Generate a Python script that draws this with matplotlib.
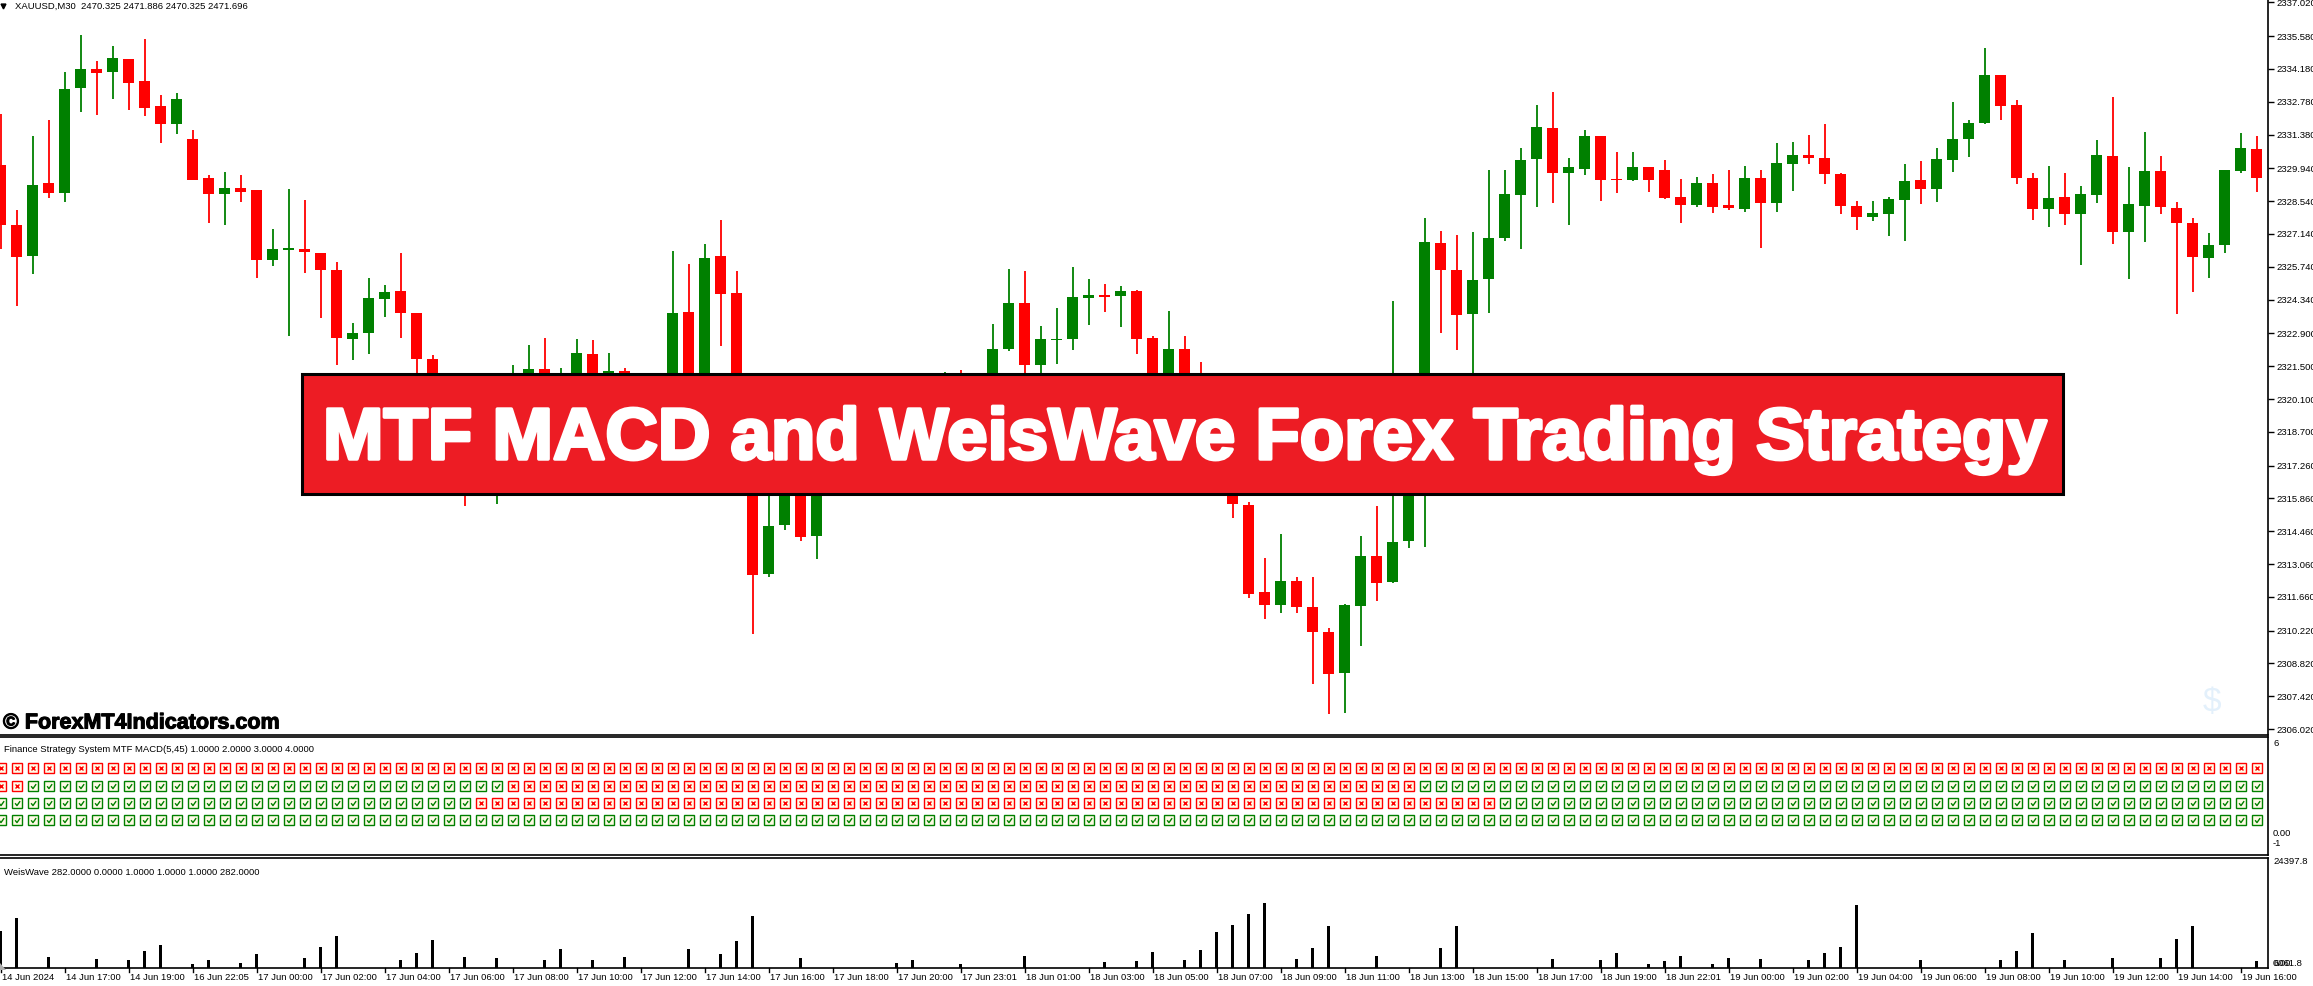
import matplotlib
matplotlib.use("Agg")
import matplotlib.pyplot as plt
import matplotlib.patheffects as pe
from matplotlib.patches import Rectangle, Polygon
from matplotlib.path import Path
from matplotlib.transforms import blended_transform_factory

W, H = 2313, 986
DPI = 100
FONT = "Liberation Sans"

# ---- XAUUSD M30 candles ----
opens = [2330.08, 2327.51, 2326.21, 2329.32, 2328.90, 2333.35, 2334.17, 2334.03, 2334.61, 2333.67,
         2332.59, 2331.81, 2331.20, 2329.52, 2328.86, 2329.10, 2329.02, 2326.01, 2326.47, 2326.49,
         2326.33, 2325.59, 2322.68, 2322.90, 2324.38, 2324.72, 2323.76, 2321.81, 2319.17, 2317.98,
         2317.18, 2317.58, 2319.57, 2320.17, 2321.39, 2320.57, 2320.57, 2322.03, 2320.87, 2321.29,
         2320.57, 2319.57, 2320.37, 2323.82, 2319.17, 2326.19, 2324.62, 2317.18, 2312.62, 2314.71,
         2316.38, 2314.27, 2316.38, 2317.18, 2317.98, 2317.48, 2318.58, 2319.17, 2318.68, 2319.57,
         2320.37, 2319.97, 2320.77, 2322.25, 2324.20, 2321.53, 2322.62, 2322.68, 2324.40, 2324.54,
         2324.48, 2324.72, 2322.70, 2320.17, 2322.23, 2321.17, 2319.97, 2317.98, 2315.59, 2311.88,
         2311.32, 2312.34, 2311.24, 2310.16, 2308.41, 2311.28, 2313.41, 2312.30, 2314.03, 2317.18,
         2326.75, 2325.59, 2323.74, 2325.20, 2326.97, 2328.82, 2330.32, 2331.66, 2329.72, 2329.92,
         2331.32, 2329.48, 2329.42, 2330.00, 2329.86, 2328.72, 2328.39, 2329.32, 2328.37, 2328.21,
         2329.52, 2328.45, 2330.14, 2330.50, 2330.38, 2329.70, 2328.33, 2327.85, 2327.99, 2328.60,
         2329.44, 2329.04, 2330.28, 2331.18, 2331.89, 2333.93, 2332.63, 2329.52, 2328.19, 2328.72,
         2327.97, 2328.78, 2330.46, 2327.21, 2328.35, 2329.82, 2328.25, 2327.61, 2326.13, 2326.65,
         2329.82, 2330.76]
highs = [2332.27, 2328.15, 2331.32, 2332.00, 2334.05, 2335.62, 2334.53, 2335.16, 2334.61, 2335.46,
         2333.07, 2333.17, 2331.58, 2329.66, 2329.78, 2329.66, 2329.02, 2327.35, 2329.06, 2328.59,
         2326.33, 2325.95, 2323.36, 2325.26, 2324.96, 2326.33, 2323.76, 2321.97, 2319.37, 2318.58,
         2319.17, 2319.57, 2321.57, 2322.40, 2322.72, 2321.43, 2322.66, 2322.62, 2322.07, 2321.43,
         2320.97, 2320.77, 2326.41, 2325.85, 2326.71, 2327.73, 2325.55, 2317.58, 2315.95, 2316.58,
         2316.58, 2316.58, 2317.38, 2318.28, 2318.18, 2318.88, 2319.57, 2319.47, 2319.97, 2321.27,
         2321.33, 2320.97, 2323.32, 2325.65, 2325.55, 2323.22, 2323.98, 2325.73, 2325.22, 2325.02,
         2324.92, 2324.76, 2322.78, 2323.86, 2322.78, 2321.69, 2320.17, 2318.18, 2315.69, 2313.31,
         2314.35, 2312.52, 2312.52, 2310.34, 2311.36, 2314.25, 2315.55, 2324.28, 2317.38, 2327.83,
         2327.27, 2327.09, 2327.23, 2329.86, 2329.86, 2330.80, 2332.63, 2333.19, 2330.38, 2331.58,
         2331.32, 2330.64, 2330.64, 2330.00, 2330.30, 2329.48, 2329.56, 2329.70, 2329.86, 2330.04,
         2329.86, 2331.02, 2331.06, 2331.36, 2331.83, 2329.76, 2328.55, 2328.55, 2328.72, 2330.12,
         2330.24, 2330.80, 2332.77, 2332.01, 2335.06, 2333.93, 2332.85, 2329.76, 2330.04, 2329.74,
         2329.18, 2331.16, 2332.99, 2330.00, 2331.50, 2330.46, 2328.51, 2327.83, 2327.19, 2329.86,
         2331.44, 2331.32]
lows = [2326.51, 2324.06, 2325.42, 2328.68, 2328.51, 2332.33, 2332.23, 2332.89, 2332.43, 2332.19,
        2331.00, 2331.40, 2329.42, 2327.61, 2327.51, 2328.49, 2325.26, 2325.79, 2322.80, 2325.46,
        2323.56, 2321.57, 2321.75, 2322.01, 2323.60, 2322.72, 2320.57, 2317.98, 2316.38, 2315.53,
        2316.78, 2315.63, 2319.17, 2319.77, 2319.77, 2319.97, 2320.17, 2320.27, 2320.37, 2319.97,
        2319.17, 2319.07, 2319.57, 2318.58, 2318.78, 2322.36, 2316.78, 2310.06, 2312.50, 2314.53,
        2314.05, 2313.29, 2316.18, 2316.98, 2317.18, 2317.28, 2318.28, 2318.38, 2318.48, 2319.37,
        2319.57, 2319.77, 2320.57, 2322.13, 2321.17, 2321.23, 2321.61, 2322.17, 2323.26, 2323.82,
        2323.16, 2322.01, 2319.77, 2319.77, 2320.17, 2319.57, 2317.38, 2315.03, 2311.60, 2310.72,
        2310.96, 2310.98, 2307.95, 2306.65, 2306.71, 2309.56, 2311.50, 2312.24, 2313.75, 2313.79,
        2322.90, 2322.21, 2320.17, 2323.78, 2326.85, 2326.51, 2328.27, 2328.45, 2327.51, 2329.64,
        2328.55, 2328.90, 2329.38, 2328.94, 2328.64, 2327.59, 2328.29, 2328.03, 2328.17, 2328.07,
        2326.53, 2328.07, 2328.96, 2330.14, 2329.26, 2327.99, 2327.31, 2327.71, 2327.05, 2326.83,
        2328.43, 2328.51, 2329.78, 2330.42, 2331.85, 2331.99, 2329.26, 2327.73, 2327.43, 2327.53,
        2325.81, 2328.47, 2326.71, 2325.22, 2326.79, 2327.99, 2323.72, 2324.66, 2325.26, 2326.33,
        2329.74, 2328.92]
closes = [2327.51, 2326.17, 2329.24, 2328.88, 2333.33, 2334.17, 2333.99, 2334.65, 2333.59, 2332.53,
          2331.85, 2332.89, 2329.46, 2328.86, 2329.08, 2328.94, 2326.01, 2326.49, 2326.53, 2326.35,
          2325.61, 2322.72, 2322.92, 2324.42, 2324.66, 2323.78, 2321.79, 2319.17, 2317.18, 2316.98,
          2318.58, 2319.17, 2320.97, 2321.39, 2320.37, 2320.93, 2322.07, 2320.77, 2321.29, 2320.57,
          2319.57, 2320.37, 2323.76, 2319.17, 2326.11, 2324.56, 2317.18, 2312.58, 2314.69, 2316.38,
          2314.23, 2316.38, 2317.18, 2317.98, 2317.48, 2318.58, 2319.17, 2318.68, 2319.57, 2320.37,
          2319.97, 2320.77, 2322.23, 2324.20, 2321.53, 2322.66, 2322.68, 2324.46, 2324.54, 2324.46,
          2324.72, 2322.68, 2320.37, 2322.23, 2320.57, 2319.97, 2317.98, 2315.61, 2311.80, 2311.32,
          2312.34, 2311.24, 2310.16, 2308.37, 2311.32, 2313.41, 2312.26, 2314.01, 2317.18, 2326.79,
          2325.59, 2323.70, 2325.18, 2326.95, 2328.84, 2330.30, 2331.70, 2329.76, 2330.00, 2331.32,
          2329.46, 2329.42, 2330.00, 2329.46, 2328.69, 2328.39, 2329.32, 2328.31, 2328.25, 2329.52,
          2328.45, 2330.16, 2330.50, 2330.36, 2329.68, 2328.35, 2327.85, 2328.03, 2328.62, 2329.40,
          2329.04, 2330.34, 2331.20, 2331.87, 2333.93, 2332.59, 2329.54, 2328.19, 2328.66, 2328.01,
          2328.84, 2330.50, 2327.21, 2328.43, 2329.82, 2328.31, 2327.61, 2326.17, 2326.67, 2329.86,
          2330.80, 2329.54]

price_ticks = [2337.02, 2335.58, 2334.18, 2332.78, 2331.38, 2329.94, 2328.54, 2327.14, 2325.74,
               2324.34, 2322.90, 2321.50, 2320.10, 2318.70, 2317.26, 2315.86, 2314.46, 2313.06,
               2311.66, 2310.22, 2308.82, 2307.42, 2306.02]

time_labels = ["14 Jun 2024", "14 Jun 17:00", "14 Jun 19:00", "16 Jun 22:05", "17 Jun 00:00",
               "17 Jun 02:00", "17 Jun 04:00", "17 Jun 06:00", "17 Jun 08:00", "17 Jun 10:00",
               "17 Jun 12:00", "17 Jun 14:00", "17 Jun 16:00", "17 Jun 18:00", "17 Jun 20:00",
               "17 Jun 23:01", "18 Jun 01:00", "18 Jun 03:00", "18 Jun 05:00", "18 Jun 07:00",
               "18 Jun 09:00", "18 Jun 11:00", "18 Jun 13:00", "18 Jun 15:00", "18 Jun 17:00",
               "18 Jun 19:00", "18 Jun 22:01", "19 Jun 00:00", "19 Jun 02:00", "19 Jun 04:00",
               "19 Jun 06:00", "19 Jun 08:00", "19 Jun 10:00", "19 Jun 12:00", "19 Jun 14:00",
               "19 Jun 16:00"]

# ---- WeisWave histogram ----
weis_bars = [0, 1, 3, 6, 8, 9, 10, 12, 13, 15, 16, 19, 20, 21, 25, 26, 27, 29, 31, 34, 35, 37, 39,
             43, 45, 46, 47, 50, 56, 57, 60, 64, 69, 71, 72, 74, 75, 76, 77, 78, 79, 81, 82, 83, 86,
             90, 91, 97, 100, 101, 103, 104, 105, 107, 108, 110, 113, 114, 115, 116, 120, 125, 126,
             127, 129, 132, 135, 136, 137, 141]
weis_vals = [8783, 12011, 2703, 2252, 2027, 4054, 5405, 901, 2027, 1126, 3378, 2477, 4955, 7732,
             1802, 3603, 6756, 2703, 2477, 2027, 4504, 1802, 2703, 4504, 3378, 6531, 12387, 2477,
             1130, 2033, 904, 2937, 1355, 1581, 3840, 2033, 4292, 8670, 10330, 12990, 15660, 2259,
             4744, 9990, 2937, 4744, 9990, 2259, 1807, 3539, 904, 1732, 2862, 904, 2485, 2259, 1807,
             3614, 4970, 15000, 1807, 1807, 4066, 8300, 1807, 2485, 2485, 7000, 10000, 1581]

# ---- MTF MACD status rows (x = red cross, v = green tick), top row first ----
macd_levels = [4, 3, 2, 1]
macd_row4 = "x" * 142
macd_row3 = "xx" + "v" * 30 + "x" * 57 + "v" * 53
macd_row2 = "v" * 30 + "x" * 64 + "v" * 48
macd_row1 = "v" * 142
macd_rows = [macd_row4, macd_row3, macd_row2, macd_row1]

n = len(opens)
GREEN = "#008000"
RED = "#ff0000"
FS = 6.8


def frac(x0, y0, x1, y1):
    return [x0 / W, 1 - y1 / H, (x1 - x0) / W, (y1 - y0) / H]


fig = plt.figure(figsize=(W / DPI, H / DPI), dpi=DPI)
fig.patch.set_facecolor("white")

AXR = 2268
xmin = -0.5 / 16
xmax = xmin + AXR / 16

ax = fig.add_axes(frac(0, 0, AXR, 735))
ax2 = fig.add_axes(frac(0, 737, AXR, 855))
ax3 = fig.add_axes(frac(0, 858, AXR, 968))

for a in (ax, ax2, ax3):
    a.set_xlim(xmin, xmax)
    a.set_xticks([])
    a.spines["left"].set_visible(False)
    for s in a.spines.values():
        s.set_linewidth(1.2)
ax.spines["top"].set_visible(False)

# candles
for i in range(n):
    o, h, l, c = opens[i], highs[i], lows[i], closes[i]
    col = GREEN if c > o else RED
    ax.vlines(i, l, h, color=col, linewidth=1.3)
    body = max(abs(c - o), 0.05)
    ax.bar(i, body, bottom=min(o, c), width=0.7, color=col, linewidth=0)

ax.set_ylim(2305.77, 2337.118)
ax.yaxis.tick_right()
ax.set_yticks(price_ticks)
ax.set_yticklabels(["%.3f" % p for p in price_ticks], fontsize=FS, family=FONT)
ax.tick_params(axis="y", direction="out", length=4, width=1, pad=2)

ax.text(0.0065, 0.991, "XAUUSD,M30  2470.325 2471.886 2470.325 2471.696", transform=ax.transAxes,
        fontsize=FS, family=FONT, va="center", ha="left")
ax.plot([0.0015], [0.9915], marker="v", color="black", markersize=3.5, transform=ax.transAxes,
        clip_on=False)

# MTF MACD panel
ax2.set_ylim(-1, 5.8)
ax2.set_yticks([])
check = Path([(-0.45, 0.05), (-0.1, -0.4), (0.5, 0.45)], [Path.MOVETO, Path.LINETO, Path.LINETO])
for lvl, row in zip(macd_levels, macd_rows):
    xs_r = [i for i, s in enumerate(row) if s == "x"]
    xs_g = [i for i, s in enumerate(row) if s == "v"]
    ax2.plot(xs_r, [lvl] * len(xs_r), ls="none", marker="s", ms=6.8, mfc="#fffbe6", mec=RED, mew=1)
    ax2.plot(xs_r, [lvl] * len(xs_r), ls="none", marker="x", ms=3.2, mec=RED, mew=1)
    ax2.plot(xs_g, [lvl] * len(xs_g), ls="none", marker="s", ms=6.8, mfc="#fffbe6", mec=GREEN, mew=1)
    ax2.plot(xs_g, [lvl] * len(xs_g), ls="none", marker=check, ms=3.8, mfc="none", mec=GREEN, mew=1)
ax2.text(0.0018, 0.89, "Finance Strategy System MTF MACD(5,45) 1.0000 2.0000 3.0000 4.0000",
         transform=ax2.transAxes, fontsize=FS, family=FONT, va="center", ha="left")

# WeisWave panel
ax3.bar(weis_bars, weis_vals, width=0.19, color="black", linewidth=0)
ax3.set_ylim(0, 24397.8 * 1.08)
ax3.set_yticks([])
ax3.text(0.0018, 0.87, "WeisWave 282.0000 0.0000 1.0000 1.0000 1.0000 282.0000",
         transform=ax3.transAxes, fontsize=FS, family=FONT, va="center", ha="left")

# time axis
tr = blended_transform_factory(ax3.transData, fig.transFigure)
for k, lab in enumerate(time_labels):
    xb = 4 * k
    ax3.plot([xb, xb], [1 - 968 / H, 1 - 972 / H], color="black", lw=1, transform=tr, clip_on=False)
    ax3.text(xb + 0.12, 1 - 978 / H, lab, transform=tr, fontsize=FS, family=FONT,
             ha="left", va="center")

# overlay in pixel coordinates
ov = fig.add_axes([0, 0, 1, 1], facecolor="none")
ov.set_xlim(0, W)
ov.set_ylim(H, 0)
ov.axis("off")

ov.add_patch(Polygon([(0, 963), (0, 970), (6, 970)], closed=True, facecolor="#b0b0b0", edgecolor="none"))

rx = AXR + 5
for txt, y in [("6", 744), ("0.00", 834), ("-1", 844), ("24397.8", 862), ("0.00", 963), ("6061.8", 963)]:
    ov.text(rx, y, txt, fontsize=FS, family=FONT, va="center", ha="left")

ov.text(2212, 703, "$", fontsize=24, color="#e3f0fb", ha="center", va="center", family=FONT)

ov.text(3, 723, "\u00a9 ForexMT4Indicators.com", fontsize=15.5, fontweight="bold", family=FONT,
        ha="left", va="center", path_effects=[pe.withStroke(linewidth=0.8, foreground="black")])

ov.add_patch(Rectangle((302, 374), 1761, 120, facecolor="#ed1c24", edgecolor="black", linewidth=2.2))
title = ov.text(323, 459, "MTF MACD and WeisWave Forex Trading Strategy", fontsize=46,
                fontweight="bold", family=FONT, color="white", ha="left", va="baseline",
                path_effects=[pe.withStroke(linewidth=2.5, foreground="white")])
fig.canvas.draw()
bb = title.get_window_extent()
title.set_fontsize(46 * 1723 / bb.width)

fig.savefig("out.png", dpi=DPI)
